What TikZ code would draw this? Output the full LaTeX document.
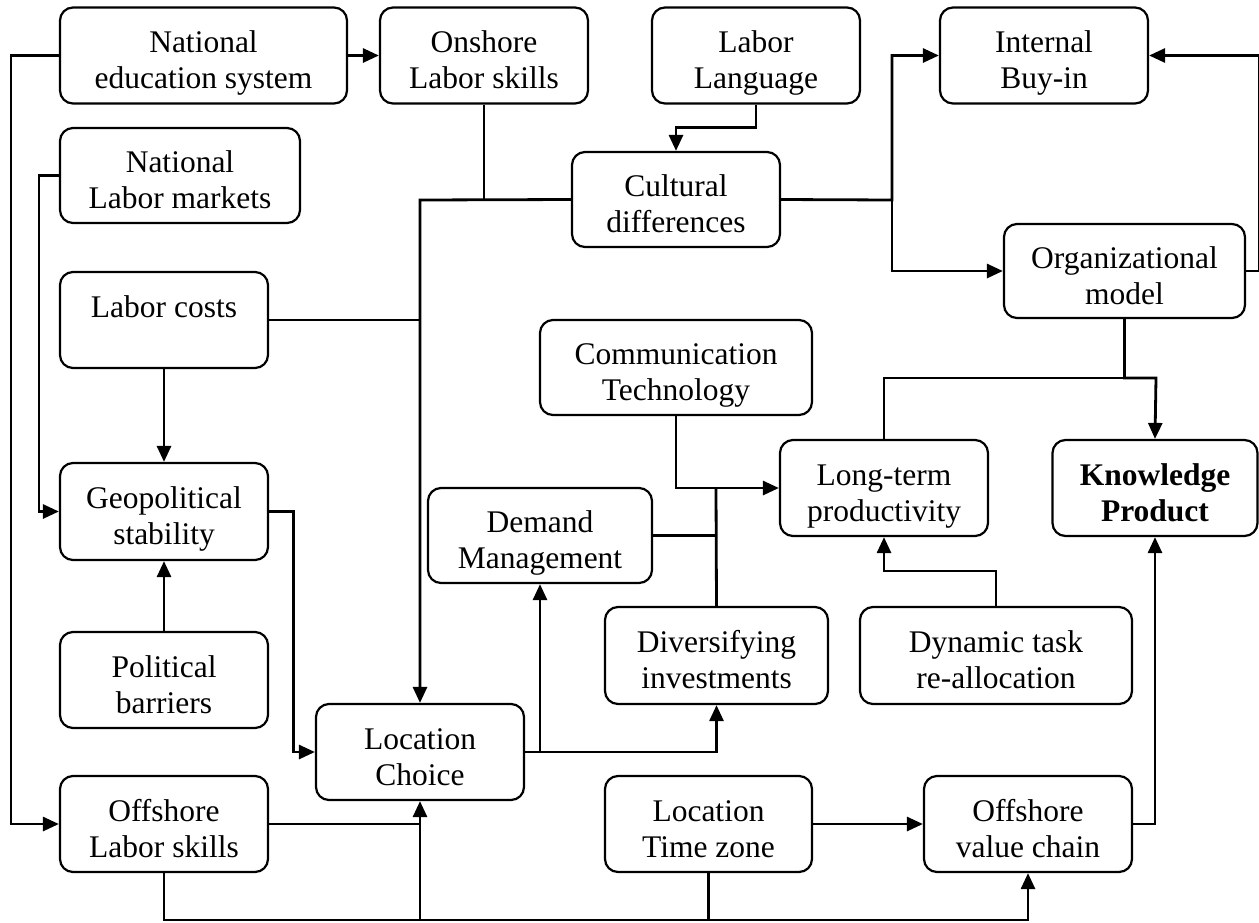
\documentclass[tikz,border=0pt]{standalone}
\usepackage{fontspec}
\setmainfont{Liberation Serif}
\usetikzlibrary{arrows.meta}
\newcommand{\bxt}[1]{\raisebox{3pt}[0pt][0pt]{\begin{tabular}[t]{@{}c@{}}#1\end{tabular}}}
\begin{document}
\begin{tikzpicture}[x=1pt,y=-1pt,
  box/.style={draw,line width=2.2pt,rounded corners=13pt,inner sep=0pt,
    minimum height=96pt,font=\fontsize{31.5}{36}\selectfont},
  conn/.style={line width=2.8pt},
  arr/.style={conn,-{Triangle[length=16pt,width=14pt]}}]
\useasboundingbox (0,0) rectangle (1259,922);
% nodes
\node[box,minimum width=287pt] (nes) at (203.5,55.5) {\bxt{National\\education system}};
\node[box,minimum width=208pt] (ons) at (484,55.5) {\bxt{Onshore\\Labor skills}};
\node[box,minimum width=208pt] (ll) at (756,55.5) {\bxt{Labor\\Language}};
\node[box,minimum width=208pt] (ibi) at (1044,55.5) {\bxt{Internal\\Buy-in}};
\node[box,minimum width=240pt,minimum height=95pt] (nlm) at (180,175.5) {\bxt{National\\Labor markets}};
\node[box,minimum width=208pt,minimum height=95pt] (cd) at (676,199.5) {\bxt{Cultural\\differences}};
\node[box,minimum width=241pt,minimum height=94pt] (om) at (1124.5,271) {\bxt{Organizational\\model}};
\node[box,minimum width=208pt] (lcost) at (164,320) {\bxt{Labor costs}};
\node[box,minimum width=272pt,minimum height=95pt] (ct) at (676,367.5) {\bxt{Communication\\Technology}};
\node[box,minimum width=208pt,minimum height=97pt] (geo) at (164,511.5) {\bxt{Geopolitical\\stability}};
\node[box,minimum width=224pt,minimum height=95pt] (dm) at (540,535.5) {\bxt{Demand\\Management}};
\node[box,minimum width=208pt] (ltp) at (884,488) {\bxt{Long-term\\productivity}};
\node[box,minimum width=205pt] (kp) at (1155,488) {\bxt{\bfseries Knowledge\\\bfseries Product}};
\node[box,minimum width=223pt,minimum height=97pt] (di) at (716.5,655.5) {\bxt{Diversifying\\investments}};
\node[box,minimum width=272pt,minimum height=97pt] (dt) at (996,655.5) {\bxt{Dynamic task\\re-allocation}};
\node[box,minimum width=208pt] (pb) at (164,680) {\bxt{Political\\barriers}};
\node[box,minimum width=208pt] (loc) at (420,752) {\bxt{Location\\Choice}};
\node[box,minimum width=208pt] (ols) at (164,824) {\bxt{Offshore\\Labor skills}};
\node[box,minimum width=207pt] (ltz) at (708.5,824) {\bxt{Location\\Time zone}};
\node[box,minimum width=208pt] (ovc) at (1028,824) {\bxt{Offshore\\value chain}};
% junction coordinates
\coordinate (j1) at (420,200);
\coordinate (j2) at (892,200);
\coordinate (j3) at (1156,378);
\coordinate (j4) at (716,488);
\coordinate (j5) at (540,752);
\coordinate (j6) at (420,920);
% connectors
\draw[arr] (nes.west) -- ++(-48,0) |- (ols.west);
\draw[arr] (nes.east) -- (ons.west);
\draw[arr] (nlm.west) -- ++(-20,0) |- (geo.west);
\draw[conn] (ons.south) -- (ons.south |- j1);
\draw[arr] (cd.west) -- (j1) -- (loc.north);
\draw[conn] (lcost.east) -- (lcost.east -| j1);
\draw[arr] (lcost.south) -- (geo.north);
\draw[arr] (pb.north) -- (geo.south);
\draw[arr] (geo.east) -- ++(24,0) |- (loc.west);
\draw[arr] (ll.south) -- ++(0,23) -| (cd.north);
\draw[arr] (cd.east) -- (j2) |- (ibi.west);
\draw[arr] (j2) |- (om.west);
\draw[arr] (om.east) -- ++(13,0) |- (ibi.east);
\draw[arr] (om.south) |- (j3) -- (kp.north);
\draw[conn] (ltp.north) |- (j3);
\draw[arr] (ct.south) |- (ltp.west);
\draw[conn] (dm.east) -- (dm.east -| j4);
\draw[conn] (di.north) -- (j4);
\draw[arr] (dt.north) -- ++(0,-35) -| (ltp.south);
\draw[arr] (loc.east) -| (di.south);
\draw[arr] (j5) -- (dm.south);
\draw[conn] (ols.east) -- (ols.east -| j6);
\draw[arr] (ols.south) |- (j6) -| (ovc.south);
\draw[arr] (j6) -- (loc.south);
\draw[conn] (ltz.south) -- (ltz.south |- j6);
\draw[arr] (ltz.east) -- (ovc.west);
\draw[arr] (ovc.east) -| (kp.south);
\end{tikzpicture}
\end{document}
